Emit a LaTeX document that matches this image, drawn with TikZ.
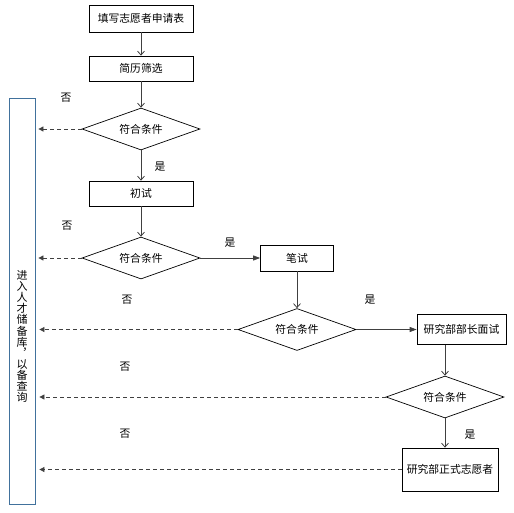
\documentclass[tikz,border=0pt]{standalone}
\usepackage{fontspec}
\setmainfont{Noto Sans CJK SC}
\usetikzlibrary{arrows.meta, positioning, shapes.geometric}
\definecolor{storeblue}{RGB}{65,113,156}
\definecolor{flowgray}{RGB}{64,64,64}

\begin{document}
\begin{tikzpicture}[x=1pt, y=-1pt, font=\fontsize{10.8}{13}\selectfont,
  stepbox/.style={draw, line width=0.7pt, inner sep=0pt},
  check/.style={draw, diamond, aspect=2.8, line width=0.7pt, inner sep=0pt, minimum width=118pt, minimum height=42pt},
  flow/.style={-{Straight Barb[length=4pt, width=7pt]}, flowgray, line width=0.8pt},
  push/.style={-{Triangle[length=7pt, width=5pt]}, flowgray, line width=0.8pt},
  reject/.style={-{Triangle[length=5pt, width=5pt]}, flowgray, line width=0.8pt, dash pattern=on 4pt off 3pt}]
  \useasboundingbox (0,0) rectangle (514,512);
  \node[stepbox, minimum width=104pt, minimum height=27pt] (apply) at (141,18.5) {填写志愿者申请表};
  \node[stepbox, minimum width=104pt, minimum height=25pt] (screen) at (141,68.5) {简历筛选};
  \node[check] (check1) at (141,129) {符合条件};
  \node[stepbox, minimum width=104pt, minimum height=25pt] (first) at (141,193.5) {初试};
  \node[check] (check2) at (141,258) {符合条件};
  \node[stepbox, minimum width=73pt, minimum height=26pt] (written) at (297,258) {笔试};
  \node[check] (check3) at (297,329.5) {符合条件};
  \node[stepbox, minimum width=89pt, minimum height=30pt] (interview) at (461.5,329.5) {研究部部长面试};
  \node[check] (check4) at (445,397) {符合条件};
  \node[stepbox, minimum width=96pt, minimum height=43pt] (member) at (450,469.5) {研究部正式志愿者};
  \node[draw=storeblue, line width=0.8pt, minimum width=26pt, minimum height=406pt, inner sep=0pt] (store) at (22,301) {};
  \node[align=center, inner sep=0pt, font=\fontsize{11}{11.1}\selectfont] (storetext) at (22,336.5)
       {进\\入\\人\\才\\储\\备\\库\\︐\\以\\备\\查\\询};
  % main line
  \draw[flow] (apply) -- (screen);
  \draw[flow] (screen) -- (check1);
  \draw[flow] (check1) -- (first);
  \draw[flow] (first) -- (check2);
  \draw[push] (check2) -- (written);
  \draw[flow] (written) -- (check3);
  \draw[push] (check3) -- (interview);
  \draw[flow] (interview.south -| check4.north) -- (check4.north);
  \draw[flow] (check4.south) -- (check4.south |- member.north);
  % rejected
  \draw[reject, shorten >=3pt] (check1.west) -- (check1.west -| store.east);
  \draw[reject, shorten >=3pt] (check2.west) -- (check2.west -| store.east);
  \draw[reject, shorten >=4pt] (check3.west) -- (check3.west -| store.east);
  \draw[reject, shorten >=4pt] (check4.west) -- (check4.west -| store.east);
  \draw[reject, shorten >=4pt] (member.west) -- (member.west -| store.east);
  \node (yes1) at (160,167) {是};
  \node (yes2) at (230,243) {是};
  \node (yes3) at (370,300) {是};
  \node (yes4) at (470,435) {是};
  \node (no1) at (66,98) {否};
  \node (no2) at (67,226) {否};
  \node (no3) at (127,300) {否};
  \node (no4) at (125,367) {否};
  \node (no5) at (125,434) {否};
\end{tikzpicture}
\end{document}
